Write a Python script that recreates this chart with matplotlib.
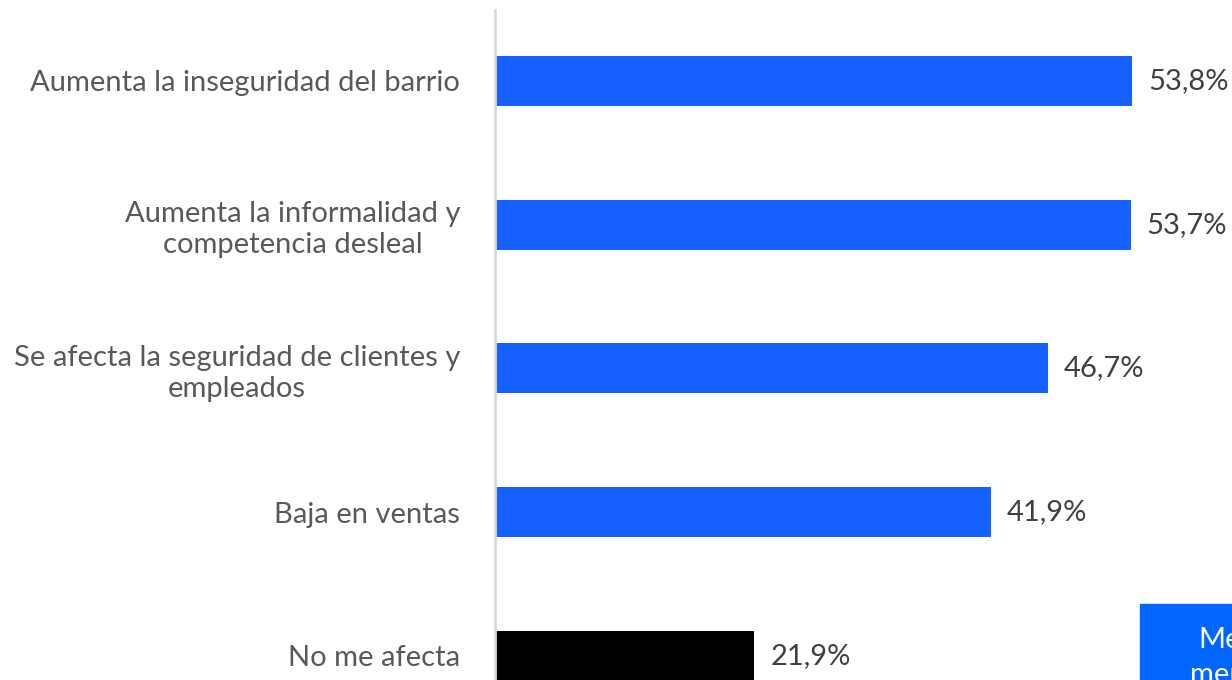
import matplotlib.pyplot as plt
from matplotlib.patches import Rectangle

# Data
categories = ['Aumenta la inseguridad del barrio',
              'Aumenta la informalidad y\ncompetencia desleal',
              'Se afecta la seguridad de clientes y\nempleados',
              'Baja en ventas',
              'No me afecta']
values = [53.8, 53.7, 46.7, 41.9, 21.9]
bar_colors = ['#1560FF', '#1560FF', '#1560FF', '#1560FF', '#000000']
value_labels = ['53,8%', '53,7%', '46,7%', '41,9%', '21,9%']

plt.rcParams['font.family'] = ['Lato', 'DejaVu Sans']

W, H = 1232, 680
fig = plt.figure(figsize=(W / 100, H / 100), dpi=100)
ax = fig.add_axes([495 / W, 0, 1 - 495 / W, 670 / H])

y = list(range(len(categories)))
ax.barh(y, values, height=0.347, color=bar_colors)

ax.set_xlim(0, (W - 495) / 11.84)
ax.set_ylim(4.167, -0.493)

for yi, v, lab in zip(y, values, value_labels):
    ax.text(v + 1.35, yi, lab, va='center', ha='left', fontsize=21, color='#404040')

ax.set_yticks(y)
ax.set_yticklabels(categories, fontsize=21, color='#595959', linespacing=1.25)
ax.tick_params(axis='y', length=0, pad=25)
ax.set_xticks([])
for s in ['top', 'right', 'bottom']:
    ax.spines[s].set_visible(False)
ax.spines['left'].set_color('#d9d9d9')
ax.spines['left'].set_linewidth(2)
for t in ax.get_yticklabels():
    t.set_multialignment('center')

# partially visible note box at bottom right
fig.patches.append(Rectangle((1140 / W, 0), 200 / W, (H - 604) / H,
                             transform=fig.transFigure, color='#0066FF', zorder=5))
fig.text(1198 / W, (H - 640) / H, 'Media', ha='left', va='center',
         fontsize=21, color='white', zorder=6)
fig.text(1190 / W, (H - 675) / H, 'menciones', ha='left', va='center',
         fontsize=21, color='white', zorder=6)

fig.savefig('out.png', dpi=100)
